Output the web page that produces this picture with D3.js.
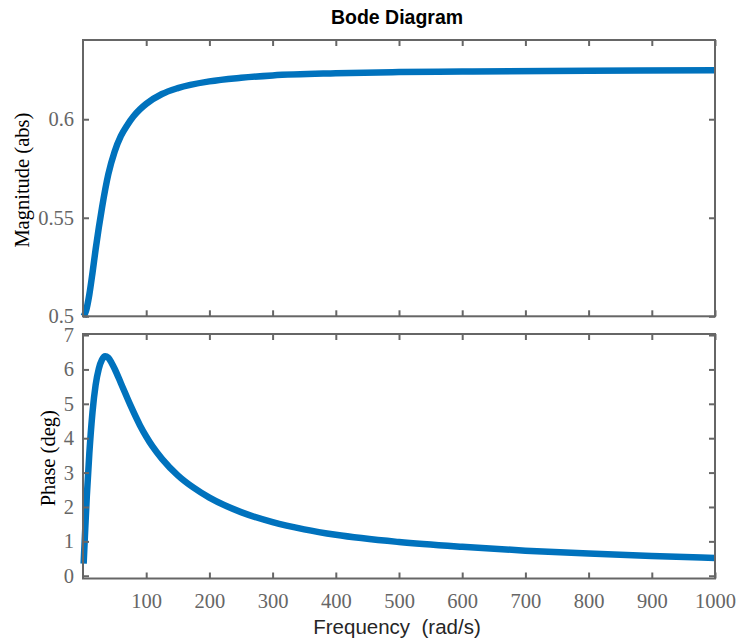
<!DOCTYPE html>
<html>
<head>
<meta charset="utf-8">
<script src="https://cdn.jsdelivr.net/npm/d3@7"></script>
<style>
  html, body { margin: 0; padding: 0; background: #fff; }
  svg { display: block; }
</style>
</head>
<body>
<svg id="chart" width="736" height="638"></svg>
<script>
// Frequency samples (rad/s)
const magFreq = [1, 5, 10, 15, 20, 25, 30, 40, 50, 60, 70, 80, 90, 100, 125, 150, 200, 250, 300, 400, 500, 600, 800, 1000];
// Magnitude (abs) at those frequencies
const magValues = [0.500, 0.503, 0.511, 0.522, 0.534, 0.545, 0.555, 0.572, 0.5835, 0.5915, 0.597, 0.6015, 0.605, 0.6078, 0.6128, 0.6158, 0.6192, 0.621, 0.6222, 0.6233, 0.6239, 0.6242, 0.6246, 0.6248];

const phaseFreq = [1, 3, 6, 10, 15, 20, 25, 30, 35, 40, 45, 50, 60, 75, 90, 100, 110, 125, 150, 175, 200, 250, 300, 350, 400, 500, 600, 700, 800, 900, 1000];
// Phase (deg)
const phaseValues = [0.35, 1.15, 2.3, 3.55, 4.75, 5.55, 6.02, 6.28, 6.38, 6.34, 6.2, 6.02, 5.6, 4.96, 4.38, 4.05, 3.76, 3.4, 2.92, 2.56, 2.27, 1.85, 1.56, 1.35, 1.19, 0.98, 0.84, 0.73, 0.645, 0.575, 0.515];

const xTicks = [100, 200, 300, 400, 500, 600, 700, 800, 900, 1000];
const magTicks = [0.5, 0.55, 0.6];
const phaseTicks = [0, 1, 2, 3, 4, 5, 6, 7];

const svg = d3.select("#chart");
const axisColor = "#666666";
const lineColor = "#0072BD";
const serif = "'Liberation Serif', 'Times New Roman', serif";
const sans = "'Liberation Sans', Arial, Helvetica, sans-serif";

const left = 83, right = 715;
const x = d3.scaleLinear().domain([0, 1000]).range([left, right]);

const panels = [
  { top: 40, bottom: 316.3, domain: [0.5, 0.6402], ticks: magTicks,
    freq: magFreq, vals: magValues, label: "Magnitude (abs)", labelX: 22, showX: false },
  { top: 334, bottom: 578.5, domain: [-0.08, 7.03], ticks: phaseTicks,
    freq: phaseFreq, vals: phaseValues, label: "Phase (deg)", labelX: 48, showX: true }
];

const tickLen = 6;
const tickFont = "20.5px";

panels.forEach(p => {
  const y = d3.scaleLinear().domain(p.domain).range([p.bottom, p.top]);
  const g = svg.append("g");

  // response curve
  const line = d3.line()
    .x((d, i) => x(p.freq[i]))
    .y(d => y(d))
    .curve(d3.curveMonotoneX);
  g.append("path")
    .datum(p.vals)
    .attr("d", line)
    .attr("fill", "none")
    .attr("stroke", lineColor)
    .attr("stroke-width", 6.5)
    .attr("stroke-linejoin", "round");

  // axes on all four sides, ticks pointing inward
  const xAxisB = d3.axisBottom(x).tickValues(xTicks).tickSizeInner(-tickLen).tickSizeOuter(0)
    .tickFormat(p.showX ? d3.format("d") : () => "").tickPadding(15);
  const xAxisT = d3.axisTop(x).tickValues(xTicks).tickSizeInner(-tickLen).tickSizeOuter(0).tickFormat(() => "");
  const yAxisL = d3.axisLeft(y).tickValues(p.ticks).tickSizeInner(-tickLen).tickSizeOuter(0)
    .tickFormat(d => String(d)).tickPadding(9);
  const yAxisR = d3.axisRight(y).tickValues(p.ticks).tickSizeInner(-tickLen).tickSizeOuter(0).tickFormat(() => "");

  const ax = [
    g.append("g").attr("transform", `translate(0,${p.bottom})`).call(xAxisB),
    g.append("g").attr("transform", `translate(0,${p.top})`).call(xAxisT),
    g.append("g").attr("transform", `translate(${left},0)`).call(yAxisL),
    g.append("g").attr("transform", `translate(${right},0)`).call(yAxisR)
  ];
  ax.forEach(a => {
    a.select(".domain").remove();
    a.selectAll(".tick line").attr("stroke", axisColor).attr("stroke-width", 2);
    a.selectAll(".tick text")
      .attr("fill", axisColor)
      .style("font-family", serif)
      .style("font-size", tickFont);
  });

  // box frame
  g.append("rect")
    .attr("x", left).attr("y", p.top)
    .attr("width", right - left).attr("height", p.bottom - p.top)
    .attr("fill", "none")
    .attr("stroke", axisColor)
    .attr("stroke-width", 2);

  // y label
  g.append("text")
    .attr("transform", `translate(${p.labelX},${(p.top + p.bottom) / 2 + 2}) rotate(-90)`)
    .attr("text-anchor", "middle")
    .attr("dominant-baseline", "central")
    .style("font-family", serif)
    .style("font-size", "20.5px")
    .attr("fill", "#000")
    .text(p.label);
});

// title
svg.append("text")
  .attr("x", 397).attr("y", 24)
  .attr("text-anchor", "middle")
  .style("font-family", sans)
  .style("font-weight", "bold")
  .style("font-size", "19.5px")
  .attr("fill", "#000")
  .text("Bode Diagram");

// x label
svg.append("text")
  .attr("x", 397).attr("y", 634)
  .attr("text-anchor", "middle")
  .style("font-family", sans)
  .style("font-size", "20.5px")
  .style("white-space", "pre")
  .attr("xml:space", "preserve")
  .attr("fill", "#262626")
  .text("Frequency  (rad/s)");
</script>
</body>
</html>
